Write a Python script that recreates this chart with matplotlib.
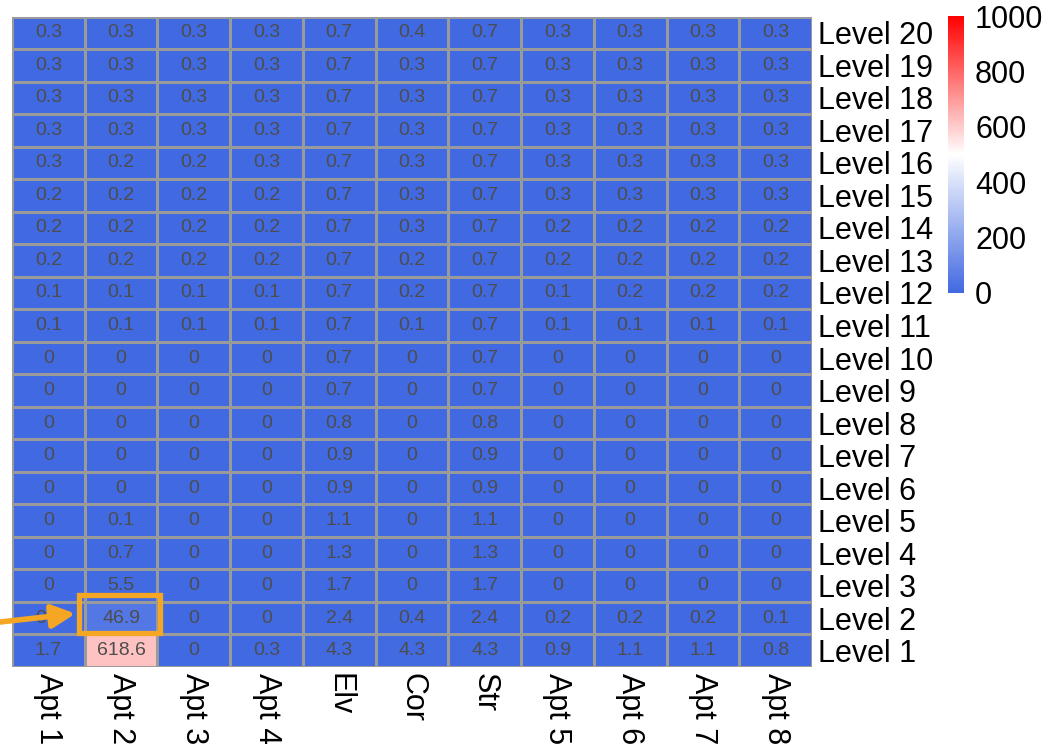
import numpy as np
import matplotlib
matplotlib.use('Agg')
import matplotlib.pyplot as plt
from matplotlib.colors import LinearSegmentedColormap, Normalize

plt.rcParams['font.family'] = ['Liberation Sans', 'DejaVu Sans']

columns = ['Apt 1', 'Apt 2', 'Apt 3', 'Apt 4', 'Elv', 'Cor', 'Str',
           'Apt 5', 'Apt 6', 'Apt 7', 'Apt 8']
levels = ['Level %d' % i for i in range(20, 0, -1)]

# rows from Level 20 (top) down to Level 1
values = np.array([
    [0.3, 0.3, 0.3, 0.3, 0.7, 0.4, 0.7, 0.3, 0.3, 0.3, 0.3],
    [0.3, 0.3, 0.3, 0.3, 0.7, 0.3, 0.7, 0.3, 0.3, 0.3, 0.3],
    [0.3, 0.3, 0.3, 0.3, 0.7, 0.3, 0.7, 0.3, 0.3, 0.3, 0.3],
    [0.3, 0.3, 0.3, 0.3, 0.7, 0.3, 0.7, 0.3, 0.3, 0.3, 0.3],
    [0.3, 0.2, 0.2, 0.3, 0.7, 0.3, 0.7, 0.3, 0.3, 0.3, 0.3],
    [0.2, 0.2, 0.2, 0.2, 0.7, 0.3, 0.7, 0.3, 0.3, 0.3, 0.3],
    [0.2, 0.2, 0.2, 0.2, 0.7, 0.3, 0.7, 0.2, 0.2, 0.2, 0.2],
    [0.2, 0.2, 0.2, 0.2, 0.7, 0.2, 0.7, 0.2, 0.2, 0.2, 0.2],
    [0.1, 0.1, 0.1, 0.1, 0.7, 0.2, 0.7, 0.1, 0.2, 0.2, 0.2],
    [0.1, 0.1, 0.1, 0.1, 0.7, 0.1, 0.7, 0.1, 0.1, 0.1, 0.1],
    [0, 0, 0, 0, 0.7, 0, 0.7, 0, 0, 0, 0],
    [0, 0, 0, 0, 0.7, 0, 0.7, 0, 0, 0, 0],
    [0, 0, 0, 0, 0.8, 0, 0.8, 0, 0, 0, 0],
    [0, 0, 0, 0, 0.9, 0, 0.9, 0, 0, 0, 0],
    [0, 0, 0, 0, 0.9, 0, 0.9, 0, 0, 0, 0],
    [0, 0.1, 0, 0, 1.1, 0, 1.1, 0, 0, 0, 0],
    [0, 0.7, 0, 0, 1.3, 0, 1.3, 0, 0, 0, 0],
    [0, 5.5, 0, 0, 1.7, 0, 1.7, 0, 0, 0, 0],
    [0.2, 46.9, 0, 0, 2.4, 0.4, 2.4, 0.2, 0.2, 0.2, 0.1],
    [1.7, 618.6, 0, 0.3, 4.3, 4.3, 4.3, 0.9, 1.1, 1.1, 0.8],
])

highlight_col = 'Apt 2'
highlight_row = 'Level 2'

cmap = LinearSegmentedColormap.from_list('bwr_heat', ['#4169E1', '#FFFFFF', '#FF0000'])
norm = Normalize(vmin=0, vmax=1000)
orange = '#F5A623'

W, H = 1054, 744
fig = plt.figure(figsize=(W / 100, H / 100), dpi=100)
ax = fig.add_axes([12 / W, 1 - 667 / H, 800 / W, 650.5 / H])

nrow, ncol = values.shape
ax.pcolormesh(np.arange(ncol + 1), np.arange(nrow + 1), values, cmap=cmap, norm=norm,
              edgecolors='#9a9a9a', linewidth=1.0)
ax.set_xlim(0, ncol)
ax.set_ylim(nrow, 0)

for r in range(nrow):
    for c in range(ncol):
        ax.text(c + 0.5, r + 0.5, '%g' % values[r, c], ha='center', va='center',
                fontsize=14, color='#4d4d4d')

ax.yaxis.tick_right()
ax.set_yticks(np.arange(nrow) + 0.5)
ax.set_yticklabels(levels, fontsize=22)
ax.set_xticks(np.arange(ncol) + 0.5)
ax.set_xticklabels(columns, fontsize=22, rotation=-90, va='top')
ax.tick_params(length=0, pad=4)
for s in ax.spines.values():
    s.set_visible(False)

# highlight box and pointer
hc = columns.index(highlight_col)
hr = levels.index(highlight_row)
ax.add_patch(plt.Rectangle((hc - 0.085, hr - 0.2), 1.115, 1.14, fill=False,
                           edgecolor=orange, linewidth=3.8, clip_on=False, zorder=5))
ax.annotate('', xy=(hc - 0.09, hr + 0.35), xytext=(-0.3, hr + 0.65),
            arrowprops=dict(arrowstyle='-|>,head_length=1.4,head_width=0.7',
                            color=orange, lw=4), annotation_clip=False, zorder=6)

cax = fig.add_axes([948 / W, 1 - 293 / H, 16 / W, 277 / H])
cb = fig.colorbar(plt.cm.ScalarMappable(norm=norm, cmap=cmap), cax=cax,
                  ticks=[0, 200, 400, 600, 800, 1000])
cb.outline.set_visible(False)
cax.tick_params(length=0, labelsize=22, pad=8)

fig.savefig('out.png', dpi=100)
